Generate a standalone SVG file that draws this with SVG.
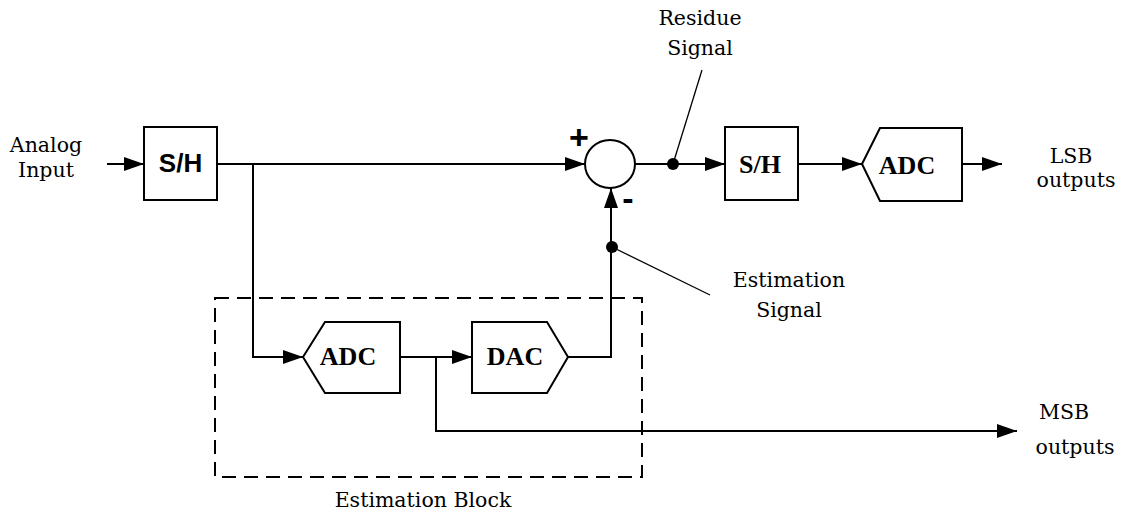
<svg xmlns="http://www.w3.org/2000/svg" width="1124" height="514" viewBox="0 0 1124 514">
<style>
.box{fill:#fff;stroke:#000;stroke-width:2}
.ln{fill:none;stroke:#000;stroke-width:2}
.thin{fill:none;stroke:#000;stroke-width:1.3}
.lbl{font-family:"DejaVu Serif","Liberation Serif",serif;font-size:20.5px;fill:#000;text-anchor:middle}
.bs{font-family:"Liberation Serif",serif;font-weight:bold;font-size:26px;fill:#000;text-anchor:middle}
.bsans{font-family:"Liberation Sans",Arial,sans-serif;font-weight:bold;font-size:26px;fill:#000;text-anchor:middle}
.sign{font-family:"Liberation Sans",Arial,sans-serif;font-weight:bold;font-size:34px;fill:#000;text-anchor:middle}
</style>
<defs>
<marker id="ah" markerUnits="userSpaceOnUse" markerWidth="20" markerHeight="14" refX="20" refY="7" orient="auto">
<path d="M0,0 L20,7 L0,14 Z" fill="#000"/>
</marker>
</defs>
<rect x="0" y="0" width="1124" height="514" fill="#fff"/>

<g id="estimation-block">
<rect x="215" y="298" width="427" height="179" fill="none" stroke="#000" stroke-width="2" stroke-dasharray="14 8"/>
<text class="lbl" x="423" y="507">Estimation Block</text>
</g>

<g id="connectors">
<path class="ln" d="M107,164 H144" marker-end="url(#ah)"/>
<path class="ln" d="M217,164 H585" marker-end="url(#ah)"/>
<path class="ln" d="M253,164 V357 H303" marker-end="url(#ah)"/>
<path class="ln" d="M400,357 H472" marker-end="url(#ah)"/>
<path class="ln" d="M436,357 V431 H1017" marker-end="url(#ah)"/>
<path class="ln" d="M568,357 H611 V188" marker-end="url(#ah)"/>
<path class="ln" d="M635,164 H725" marker-end="url(#ah)"/>
<path class="ln" d="M798,164 H862" marker-end="url(#ah)"/>
<path class="ln" d="M962,164 H1002" marker-end="url(#ah)"/>
<circle cx="673" cy="164" r="6" fill="#000"/>
<circle cx="612" cy="247" r="6" fill="#000"/>
<path class="thin" d="M702,70 L673,164"/>
<path class="thin" d="M612,247 L710,295"/>
</g>

<g id="analog-input">
<text class="lbl" x="46" y="152">Analog</text>
<text class="lbl" x="46" y="177">Input</text>
</g>

<g id="sh1">
<rect class="box" x="144" y="127" width="73" height="73"/>
<text class="bsans" x="180.5" y="172">S/H</text>
</g>

<g id="summer">
<ellipse cx="610" cy="164" rx="25" ry="24" fill="#fff" stroke="#000" stroke-width="2"/>
<text class="sign" x="579" y="149">+</text>
<text class="sign" x="628" y="210">-</text>
</g>

<g id="residue-label">
<text class="lbl" x="700" y="25">Residue</text>
<text class="lbl" x="700" y="55">Signal</text>
</g>

<g id="sh2">
<rect class="box" x="725" y="127" width="73" height="73"/>
<text class="bs" x="760" y="173">S/H</text>
</g>

<g id="adc2">
<path class="box" d="M862,164 L880,128 H962 V201 H880 Z"/>
<text class="bs" x="907" y="174">ADC</text>
</g>

<g id="lsb-label">
<text class="lbl" x="1071" y="163">LSB</text>
<text class="lbl" x="1076" y="187">outputs</text>
</g>

<g id="adc1">
<path class="box" d="M303,357 L325,322 H400 V393 H325 Z"/>
<text class="bs" x="348" y="365">ADC</text>
</g>

<g id="dac">
<path class="box" d="M472,322 H547 L568,357 L547,393 H472 Z"/>
<text class="bs" x="515" y="365">DAC</text>
</g>

<g id="estimation-signal-label">
<text class="lbl" x="789" y="287">Estimation</text>
<text class="lbl" x="789" y="317">Signal</text>
</g>

<g id="msb-label">
<text class="lbl" x="1064" y="419">MSB</text>
<text class="lbl" x="1075" y="454">outputs</text>
</g>
</svg>
